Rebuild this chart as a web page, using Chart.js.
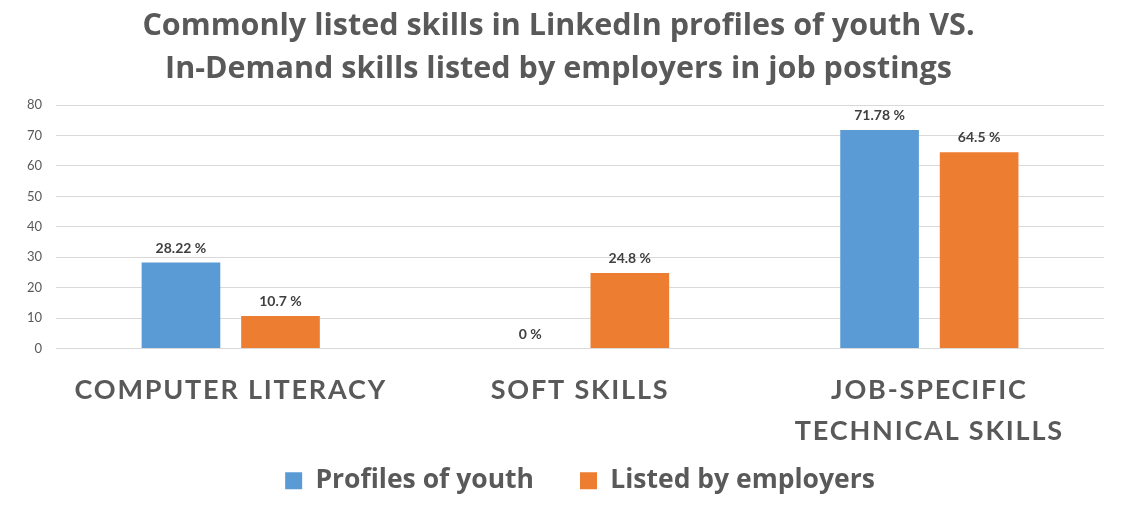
<!DOCTYPE html>
<html>
<head>
<meta charset="utf-8">
<script src="https://cdn.jsdelivr.net/npm/chart.js@4.4.1/dist/chart.umd.min.js"></script>
<style>
  html, body { margin: 0; padding: 0; background: #fff; }
  #wrap { width: 1132px; height: 513px; }
</style>
</head>
<body>
<div id="wrap"><canvas id="barChart"></canvas></div>
<script>
var categories = ['COMPUTER LITERACY', 'SOFT SKILLS', ['JOB-SPECIFIC', 'TECHNICAL SKILLS']];
var youthValues = [28.22, 0, 71.78];
var employerValues = [10.7, 24.8, 64.5];
var yTicks = [0, 10, 20, 30, 40, 50, 60, 70, 80];

var gray = '#595959';

// draws "value %" above each bar
var valueLabels = {
    id: 'valueLabels',
    afterDatasetsDraw: function (chart) {
        var ctx = chart.ctx;
        ctx.save();
        ctx.font = 'bold 14px Lato';
        ctx.fillStyle = '#404040';
        ctx.textAlign = 'center';
        ctx.textBaseline = 'alphabetic';
        chart.data.datasets.forEach(function (ds, i) {
            chart.getDatasetMeta(i).data.forEach(function (bar, j) {
                ctx.fillText(ds.data[j] + ' %', bar.x, bar.y - 10);
            });
        });
        ctx.restore();
    }
};

// letter spacing for the category labels, and let the second line
// run below the (shortened) axis box
var spacedTicks = {
    id: 'spacedTicks',
    beforeDraw: function (chart) {
        var xs = chart.scales.x;
        if (xs._spaced) return;
        var orig = xs.drawLabels.bind(xs);
        xs._computeLabelArea = function () { return undefined; };
        xs.drawLabels = function (area) {
            var c = this.ctx;
            c.save();
            c.letterSpacing = '1.8px';
            orig(area);
            c.restore();
        };
        xs._spaced = true;
    }
};

var ctx = document.getElementById('barChart').getContext('2d');
var myChart = new Chart(ctx, {
    type: 'bar',
    data: {
        labels: categories,
        datasets: [{
            label: 'Profiles of youth',
            data: youthValues,
            backgroundColor: '#5B9BD5'
        }, {
            label: 'Listed by employers',
            data: employerValues,
            backgroundColor: '#ED7D31'
        }]
    },
    options: {
        responsive: true,
        maintainAspectRatio: false,
        animation: false,
        categoryPercentage: 0.57,
        barPercentage: 0.79,
        layout: {
            padding: { left: 13, right: 28, top: 0, bottom: 9 }
        },
        plugins: {
            title: {
                display: true,
                text: ['Commonly listed skills in LinkedIn profiles of youth VS.',
                       'In-Demand skills listed by employers in job postings'],
                color: gray,
                font: { family: 'Open Sans', size: 30.5, weight: 'bold', lineHeight: 1.41 },
                padding: { top: 5, bottom: 14 }
            },
            legend: {
                position: 'bottom',
                fullSize: false,
                labels: {
                    color: gray,
                    font: { family: 'Open Sans', size: 26.5, weight: 'bold' },
                    boxWidth: 17,
                    boxHeight: 17,
                    padding: 46
                }
            },
            tooltip: { enabled: false }
        },
        scales: {
            x: {
                grid: { display: false },
                border: { display: false },
                ticks: {
                    color: gray,
                    font: { family: 'Lato', size: 27, weight: 'bold', lineHeight: 1.52 },
                    padding: 13,
                    maxRotation: 0
                },
                afterFit: function (axis) {
                    axis.height = 73;
                }
            },
            y: {
                min: 0,
                max: 80,
                afterBuildTicks: function (axis) {
                    axis.ticks = yTicks.map(function (v) { return { value: v }; });
                },
                grid: { color: '#d9d9d9', drawTicks: false },
                border: { display: false },
                ticks: {
                    color: gray,
                    font: { family: 'Lato', size: 13 },
                    padding: 14
                }
            }
        }
    },
    plugins: [valueLabels, spacedTicks]
});
</script>
</body>
</html>
